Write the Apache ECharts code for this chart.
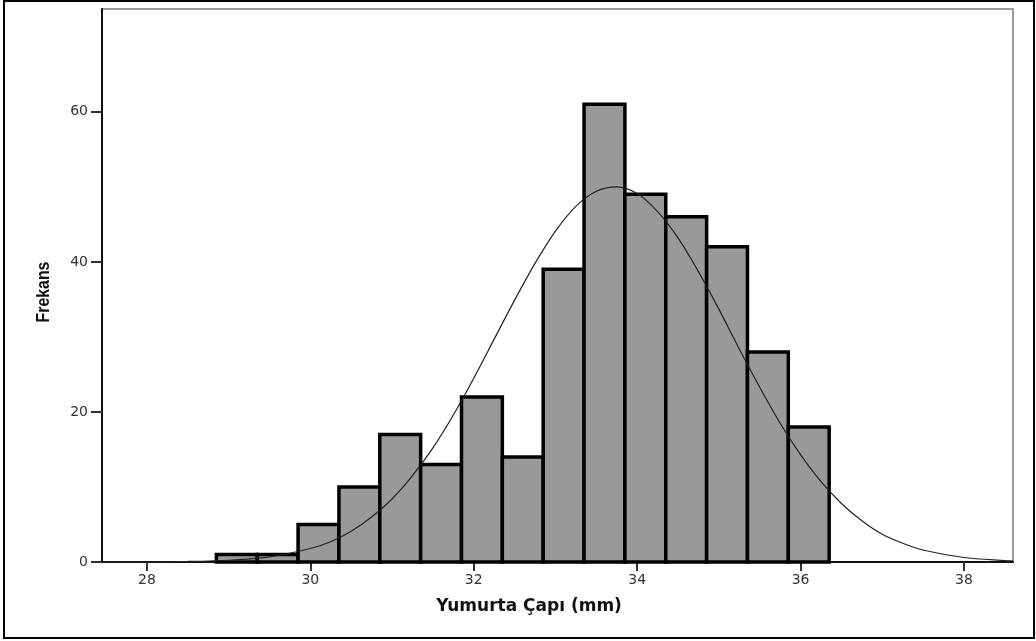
<!DOCTYPE html>
<html>
<head>
<meta charset="utf-8">
<script src="https://cdn.jsdelivr.net/npm/echarts@6/dist/echarts.min.js"></script>
<style>
  html, body { margin: 0; padding: 0; background: #fff; }
  #chart { width: 1036px; height: 641px; }
</style>
</head>
<body>
<div id="chart"></div>
<script>
// histogram bins (mm) and counts
const binEdges = [28.85, 29.35, 29.85, 30.35, 30.85, 31.35, 31.85, 32.35, 32.85, 33.35, 33.85, 34.35, 34.85, 35.35, 35.85, 36.35]
const counts = [1, 1, 5, 10, 17, 13, 22, 14, 39, 61, 49, 46, 42, 28, 18]

// normal curve
const curveX = [27.45, 28, 28.5, 29, 29.5, 30, 30.25, 30.5, 30.75, 31, 31.25, 31.5, 31.75, 32, 32.25, 32.5, 32.75, 33, 33.25, 33.5, 33.75,
  34, 34.25, 34.5, 34.75, 35, 35.25, 35.5, 35.75, 36, 36.25, 36.5, 36.75, 37, 37.25, 37.5, 38, 38.5, 38.6]
const curveY = [0.01, 0.02, 0.07, 0.23, 0.68, 1.8, 2.7, 4.1, 6.0, 8.4, 11.5, 15.2, 19.6, 24.5, 29.7, 34.9, 39.8, 44.1, 47.4, 49.4, 50,
  49.1, 46.7, 43.2, 38.7, 33.7, 28.4, 23.3, 18.5, 14.3, 10.7, 7.8, 5.5, 3.7, 2.5, 1.6, 0.6, 0.2, 0.16]

const xTicks = [28, 30, 32, 34, 36, 38]
const yTicks = [0, 20, 40, 60]

const histData = counts.map((c, i) => [binEdges[i], binEdges[i + 1], c])
const curveData = curveX.map((x, i) => [x, curveY[i]])

const chart = echarts.init(document.getElementById('chart'))

const option = {
  animation: false,
  backgroundColor: '#fff',
  grid: {
    left: 102,
    top: 9,
    right: 23,
    bottom: 79,
    show: true,
    borderColor: '#7a7a7a',
    borderWidth: 1.5
  },
  xAxis: {
    type: 'value',
    min: 27.45,
    max: 38.6,
    axisLine: { show: true, onZero: false, lineStyle: { color: '#111', width: 2 } },
    axisTick: { show: true, customValues: xTicks, length: 9, lineStyle: { color: '#333', width: 2 } },
    axisLabel: {
      customValues: xTicks,
      color: '#333',
      fontFamily: 'DejaVu Sans',
      fontSize: 14,
      margin: 11
    },
    splitLine: { show: false }
  },
  yAxis: {
    type: 'value',
    min: 0,
    max: 73.7,
    axisLine: { show: true, lineStyle: { color: '#111', width: 2 } },
    axisTick: { show: true, customValues: yTicks, length: 11, lineStyle: { color: '#333', width: 2 } },
    axisLabel: {
      customValues: yTicks,
      color: '#333',
      fontFamily: 'DejaVu Sans',
      fontSize: 14,
      margin: 14
    },
    splitLine: { show: false }
  },
  graphic: [
    {
      type: 'rect',
      shape: { x: 4, y: 1, width: 1030, height: 637 },
      style: { fill: 'none', stroke: '#000', lineWidth: 2 },
      z: 100
    },
    {
      type: 'text',
      x: 529,
      y: 607,
      style: {
        text: 'Yumurta Çapı (mm)',
        font: 'bold 17px "DejaVu Sans"',
        fill: '#111',
        align: 'center',
        verticalAlign: 'middle'
      }
    },
    {
      type: 'text',
      x: 44,
      y: 292,
      rotation: Math.PI / 2,
      scaleX: 0.88,
      style: {
        text: 'Frekans',
        font: 'bold 18px "Liberation Sans"',
        fill: '#111',
        align: 'center',
        verticalAlign: 'middle'
      }
    }
  ],
  series: [
    {
      type: 'custom',
      data: histData,
      encode: { x: [0, 1], y: 2 },
      z: 2,
      renderItem: function (params, api) {
        const p0 = api.coord([api.value(0), api.value(2)])
        const p1 = api.coord([api.value(1), 0])
        return {
          type: 'rect',
          shape: { x: p0[0], y: p0[1], width: p1[0] - p0[0], height: p1[1] - p0[1] },
          style: { fill: '#999999', stroke: '#000', lineWidth: 3.5 }
        }
      }
    },
    {
      type: 'line',
      data: curveData,
      smooth: 0.3,
      showSymbol: false,
      z: 5,
      lineStyle: { color: '#222', width: 1.2 }
    }
  ]
}

chart.setOption(option)
</script>
</body>
</html>
